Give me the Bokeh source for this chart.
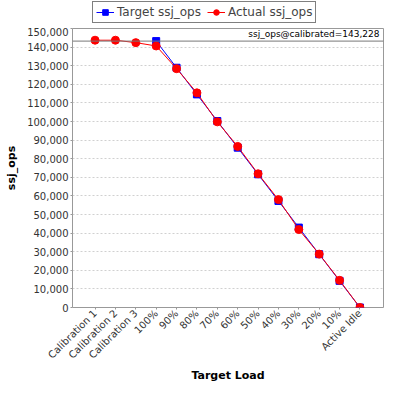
import math
from bokeh.plotting import figure
from bokeh.layouts import column
from bokeh.models import (Range1d, FixedTicker, NumeralTickFormatter, Span, Label,
                          Legend, LegendItem, ColumnDataSource)
from bokeh.embed import file_html
from bokeh.resources import INLINE

categories = ["Calibration 1", "Calibration 2", "Calibration 3", "100%", "90%", "80%",
              "70%", "60%", "50%", "40%", "30%", "20%", "10%", "Active Idle"]
target_cats = ["100%", "90%", "80%", "70%", "60%", "50%", "40%", "30%", "20%", "10%", "Active Idle"]
target_ops = [143228, 128905, 114582, 100260, 85937, 71614, 57291, 42968, 28646, 14323, 0]
actual_ops = [143700, 143700, 142400, 140600, 128400, 115400, 99800, 86600, 71900,
              58000, 41900, 28700, 14600, 0]
calibrated = 143228
y_ticks = list(range(0, 150001, 10000))

idx = {c: i for i, c in enumerate(categories)}
tsrc = ColumnDataSource(dict(x=[idx[c] for c in target_cats], y=target_ops))
asrc = ColumnDataSource(dict(x=[idx[c] for c in categories], y=actual_ops))

FONT = "DejaVu Sans"
FW, FH = 311, 279
BL, BR, BT = 72, 1, 1
LEG_H = 27


def add_series(fig):
    tl = fig.line("x", "y", source=tsrc, line_color="blue", line_width=1)
    tm = fig.scatter("x", "y", source=tsrc, marker="square", size=7,
                     fill_color="blue", line_color="blue")
    al = fig.line("x", "y", source=asrc, line_color="red", line_width=1)
    am = fig.scatter("x", "y", source=asrc, marker="circle", size=8,
                     fill_color="red", line_color="red")
    return tl, tm, al, am


# ---------- main chart ----------
p = figure(frame_width=FW, frame_height=FH, output_backend="svg", toolbar_location=None,
           x_range=Range1d(-1.107, len(categories) - 1 + 1.156),
           y_range=Range1d(0, 150000),
           min_border_left=BL, min_border_right=BR, min_border_top=BT, min_border_bottom=0)
p.background_fill_color = "white"
p.border_fill_color = "white"
p.outline_line_color = "#999999"

p.xaxis.ticker = FixedTicker(ticks=list(range(len(categories))))
p.xaxis.major_label_overrides = {i: c for i, c in enumerate(categories)}
p.xaxis.major_label_orientation = math.pi / 4
p.yaxis.ticker = FixedTicker(ticks=y_ticks)
p.yaxis.formatter = NumeralTickFormatter(format="0,0")
for ax in (p.xaxis[0], p.yaxis[0]):
    ax.axis_line_color = None
    ax.major_tick_line_color = "#999999"
    ax.major_tick_out = 2
    ax.major_tick_in = 0
    ax.minor_tick_line_color = None
    ax.major_label_text_font = FONT
    ax.major_label_text_font_size = "10px"
    ax.major_label_text_color = "#333333"
    ax.major_label_standoff = 2
    ax.axis_label_text_font = FONT
    ax.axis_label_text_font_size = "11px"
    ax.axis_label_text_font_style = "bold"
    ax.axis_label_text_color = "black"
p.xaxis.axis_label = "Target Load"
p.yaxis.axis_label = "ssj_ops"
p.xaxis.axis_label_standoff = 2
p.yaxis.axis_label_standoff = 6

p.xgrid.grid_line_color = None
p.ygrid.grid_line_color = "#d0d0d0"
p.ygrid.grid_line_dash = "2 2"
p.ygrid.grid_line_width = 1

p.add_layout(Span(location=calibrated, dimension="width", line_color="#777777", line_width=1))
p.add_layout(Label(x=len(categories) - 1 + 1.156, y=calibrated, x_offset=-4, y_offset=2,
                   text="ssj_ops@calibrated=" + format(calibrated, ","),
                   text_font=FONT, text_font_size="9px", text_align="right",
                   text_baseline="bottom", text_color="black"))

add_series(p)

# ---------- legend strip above the chart (series kept out of its view) ----------
lg = figure(width=BL + FW + BR, height=LEG_H, output_backend="svg", toolbar_location=None,
            x_range=Range1d(0, 1), y_range=Range1d(-2, -1),
            min_border_left=0, min_border_right=0, min_border_top=0, min_border_bottom=0)
lg.axis.visible = False
lg.grid.grid_line_color = None
lg.outline_line_color = None
lg.background_fill_color = "white"
lg.border_fill_color = "white"
ltl, ltm, lal, lam = add_series(lg)

legend = Legend(items=[LegendItem(label="Target ssj_ops", renderers=[ltl, ltm]),
                       LegendItem(label="Actual ssj_ops", renderers=[lal, lam])],
                orientation="horizontal", location=(20, 4))
legend.label_text_font = FONT
legend.label_text_font_size = "12px"
legend.border_line_color = "black"
legend.border_line_width = 1
legend.glyph_width = 18
legend.glyph_height = 14
legend.label_height = 14
legend.label_standoff = 3
legend.padding = 3
legend.spacing = 6
legend.margin = 0
legend.background_fill_color = "white"
lg.add_layout(legend, "center")

layout = column(lg, p, spacing=0)
open("out.html", "w").write(file_html(layout, INLINE))
